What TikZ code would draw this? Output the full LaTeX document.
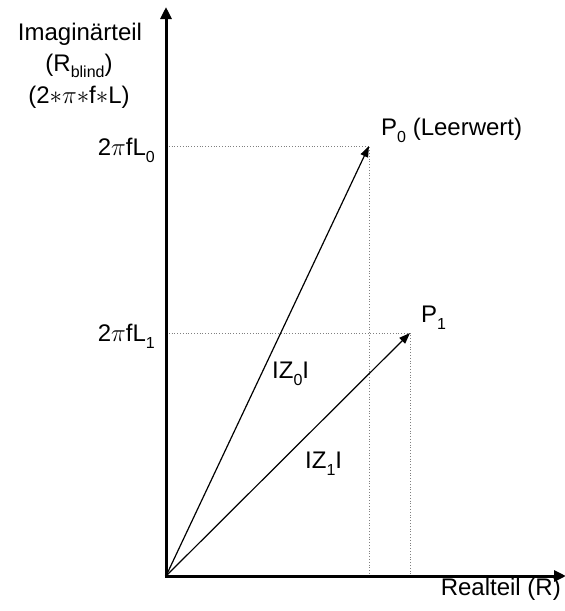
\documentclass[tikz,border=0pt]{standalone}
\usepackage{fontspec}
\setmainfont{Liberation Sans}
\usetikzlibrary{arrows.meta}
\newcommand\sbs[1]{\raisebox{-0.3em}[0pt][0pt]{\fontsize{16}{16}\selectfont #1}}
\begin{document}
\begin{tikzpicture}[x=1pt,y=-1pt,
  every node/.style={font=\fontsize{24}{28}\selectfont, inner sep=0pt},
  axis/.style={line width=3pt, -{Triangle[length=12pt,width=11pt]}},
  vec/.style={line width=1.2pt, -{Triangle[length=11pt,width=8pt]}},
  guide/.style={gray, line width=0.8pt, dotted}]
\useasboundingbox (0,0) rectangle (565,611);
\coordinate (O) at (166,576);
\coordinate (ytop) at (166,7);
\coordinate (xend) at (566,576);
\coordinate (P0) at (369,146);
\coordinate (P1) at (410,333);
\coordinate (Y0) at (166,146);
\coordinate (Y1) at (166,333);
\coordinate (X0) at (369,576);
\coordinate (X1) at (410,576);
% guides
\draw[guide] (Y0) -- (P0) -- (X0);
\draw[guide] (Y1) -- (P1) -- (X1);
% vectors
\draw[vec] (O) -- (P0);
\draw[vec] (O) -- (P1);
% axes
\draw[axis] (O) -- (ytop);
\draw[axis] ([xshift=-1.5pt]O) -- (xend);
% labels
\node[anchor=base] (im) at (80,40) {Imaginärteil};
\node[anchor=base] (rb) at (79,71) {(R\raisebox{-0.25em}[0pt][0pt]{\fontsize{16}{16}\selectfont blind})};
\node[anchor=base] (fl) at (79,103) {(2$\ast\pi\ast$f$\ast$L)};
\node[anchor=base east] (l0) at (155,155) {2$\pi$fL\sbs{0}};
\node[anchor=base east] (l1) at (155,341) {2$\pi$fL\sbs{1}};
\node[anchor=base west] (p0) at (381,135) {P\sbs{0} (Leerwert)};
\node[anchor=base west] (p1) at (421,322) {P\sbs{1}};
\node[anchor=base west] (z0) at (272,378) {IZ\sbs{0}I};
\node[anchor=base west] (z1) at (305,468) {IZ\sbs{1}I};
\node[anchor=base east] (re) at (561,595) {Realteil (R)};
\end{tikzpicture}
\end{document}
